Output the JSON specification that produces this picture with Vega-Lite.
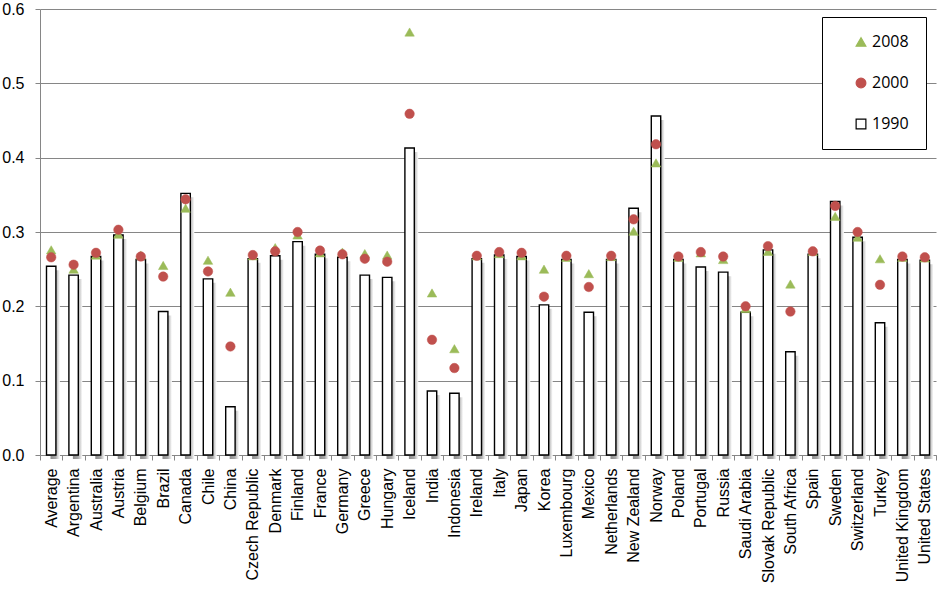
{
  "$schema": "https://vega.github.io/schema/vega-lite/v6.json",
  "width": 896,
  "height": 446,
  "autosize": {"type": "none"},
  "padding": {"left": 40, "top": 9, "right": 6, "bottom": 135},
  "background": "white",
  "config": {
    "view": {"stroke": null},
    "font": "Liberation Sans"
  },
  "data": {
    "values": [
      {"country": "Average", "1990": 0.254, "2000": 0.266, "2008": 0.276},
      {"country": "Argentina", "1990": 0.242, "2000": 0.256, "2008": 0.250},
      {"country": "Australia", "1990": 0.267, "2000": 0.272, "2008": 0.269},
      {"country": "Austria", "1990": 0.296, "2000": 0.303, "2008": 0.297},
      {"country": "Belgium", "1990": 0.263, "2000": 0.267, "2008": 0.269},
      {"country": "Brazil", "1990": 0.193, "2000": 0.240, "2008": 0.255},
      {"country": "Canada", "1990": 0.352, "2000": 0.344, "2008": 0.332},
      {"country": "Chile", "1990": 0.237, "2000": 0.247, "2008": 0.262},
      {"country": "China", "1990": 0.065, "2000": 0.146, "2008": 0.219},
      {"country": "Czech Republic", "1990": 0.264, "2000": 0.269, "2008": 0.268},
      {"country": "Denmark", "1990": 0.268, "2000": 0.274, "2008": 0.279},
      {"country": "Finland", "1990": 0.287, "2000": 0.300, "2008": 0.296},
      {"country": "France", "1990": 0.270, "2000": 0.275, "2008": 0.272},
      {"country": "Germany", "1990": 0.266, "2000": 0.270, "2008": 0.273},
      {"country": "Greece", "1990": 0.242, "2000": 0.264, "2008": 0.271},
      {"country": "Hungary", "1990": 0.239, "2000": 0.260, "2008": 0.269},
      {"country": "Iceland", "1990": 0.413, "2000": 0.459, "2008": 0.569},
      {"country": "India", "1990": 0.086, "2000": 0.155, "2008": 0.218},
      {"country": "Indonesia", "1990": 0.083, "2000": 0.117, "2008": 0.143},
      {"country": "Ireland", "1990": 0.264, "2000": 0.268, "2008": 0.268},
      {"country": "Italy", "1990": 0.269, "2000": 0.273, "2008": 0.271},
      {"country": "Japan", "1990": 0.267, "2000": 0.272, "2008": 0.268},
      {"country": "Korea", "1990": 0.202, "2000": 0.213, "2008": 0.250},
      {"country": "Luxembourg", "1990": 0.263, "2000": 0.268, "2008": 0.266},
      {"country": "Mexico", "1990": 0.192, "2000": 0.226, "2008": 0.244},
      {"country": "Netherlands", "1990": 0.263, "2000": 0.268, "2008": 0.267},
      {"country": "New Zealand", "1990": 0.332, "2000": 0.317, "2008": 0.301},
      {"country": "Norway", "1990": 0.456, "2000": 0.418, "2008": 0.393},
      {"country": "Poland", "1990": 0.263, "2000": 0.267, "2008": 0.266},
      {"country": "Portugal", "1990": 0.253, "2000": 0.273, "2008": 0.272},
      {"country": "Russia", "1990": 0.246, "2000": 0.267, "2008": 0.263},
      {"country": "Saudi Arabia", "1990": 0.192, "2000": 0.200, "2008": 0.197},
      {"country": "Slovak Republic", "1990": 0.276, "2000": 0.281, "2008": 0.274},
      {"country": "South Africa", "1990": 0.139, "2000": 0.193, "2008": 0.230},
      {"country": "Spain", "1990": 0.270, "2000": 0.274, "2008": 0.274},
      {"country": "Sweden", "1990": 0.341, "2000": 0.335, "2008": 0.321},
      {"country": "Switzerland", "1990": 0.293, "2000": 0.300, "2008": 0.293},
      {"country": "Turkey", "1990": 0.178, "2000": 0.229, "2008": 0.264},
      {"country": "United Kingdom", "1990": 0.263, "2000": 0.267, "2008": 0.266},
      {"country": "United States", "1990": 0.262, "2000": 0.266, "2008": 0.265}
    ]
  },
  "transform": [
    {"fold": ["2008", "2000", "1990"], "as": ["year", "value"]}
  ],
  "encoding": {
    "x": {
      "field": "country",
      "type": "nominal",
      "sort": null,
      "title": null,
      "scale": {"paddingInner": 0, "paddingOuter": 0},
      "axis": {
        "tickBand": "extent",
        "labelAngle": -90,
        "labelFont": "Liberation Sans",
        "labelFontSize": 16,
        "labelColor": "#000000",
        "labelPadding": 8,
        "tickSize": 5,
        "tickColor": "#868686",
        "domainColor": "#868686",
        "grid": false,
        "labelLimit": 200
      }
    },
    "y": {
      "field": "value",
      "type": "quantitative",
      "title": null,
      "scale": {"domain": [0, 0.6], "nice": false, "zero": true},
      "axis": {
        "values": [0, 0.1, 0.2, 0.3, 0.4, 0.5, 0.6],
        "format": ".1f",
        "labelFont": "Liberation Sans",
        "labelFontSize": 16,
        "labelColor": "#000000",
        "labelPadding": 11,
        "tickSize": 5,
        "tickColor": "#868686",
        "domainColor": "#868686",
        "grid": true,
        "gridColor": "#868686",
        "gridWidth": 1
      }
    }
  },
  "layer": [
    {
      "transform": [{"filter": "datum.year == '1990'"}],
      "mark": {
        "type": "bar",
        "width": {"band": 0.42},
        "xOffset": 4,
        "yOffset": 4,
        "strokeWidth": 0,
        "fill": {
          "gradient": "linear",
          "x1": 0, "y1": 0, "x2": 1, "y2": 0,
          "stops": [
            {"offset": 0, "color": "#8c8c8c"},
            {"offset": 0.55, "color": "#a8a8a8"},
            {"offset": 1, "color": "#ffffff"}
          ]
        }
      }
    },
    {
      "transform": [{"filter": "datum.year == '1990'"}],
      "mark": {"type": "bar", "width": {"band": 0.42}, "strokeWidth": 1.4},
      "encoding": {
        "fill": {
          "field": "year",
          "type": "nominal",
          "scale": {"domain": ["2008", "2000", "1990"], "range": ["#9BBB59", "#C0504D", "#ffffff"]},
          "legend": {
            "title": null,
            "orient": "none",
            "legendX": 782,
            "legendY": 8,
            "direction": "vertical",
            "fillColor": "#ffffff",
            "strokeColor": "#000000",
            "padding": 17,
            "symbolOffset": 14,
            "symbolSize": 95,
            "symbolStrokeWidth": 1.2,
            "rowPadding": 25,
            "labelFont": "Open Sans",
            "labelFontSize": 16,
            "labelColor": "#000000",
            "labelOffset": 3
          }
        },
        "stroke": {
          "field": "year",
          "type": "nominal",
          "scale": {"domain": ["2008", "2000", "1990"], "range": ["#9BBB59", "#C0504D", "#000000"]}
        }
      }
    },
    {
      "transform": [{"filter": "datum.year != '1990'"}],
      "mark": {"type": "point", "filled": true, "size": 90, "strokeWidth": 0.5, "opacity": 1},
      "encoding": {
        "shape": {
          "field": "year",
          "type": "nominal",
          "scale": {"domain": ["2008", "2000", "1990"], "range": ["triangle-up", "circle", "square"]}
        },
        "fill": {"field": "year", "type": "nominal"},
        "stroke": {"field": "year", "type": "nominal"}
      }
    }
  ]
}
